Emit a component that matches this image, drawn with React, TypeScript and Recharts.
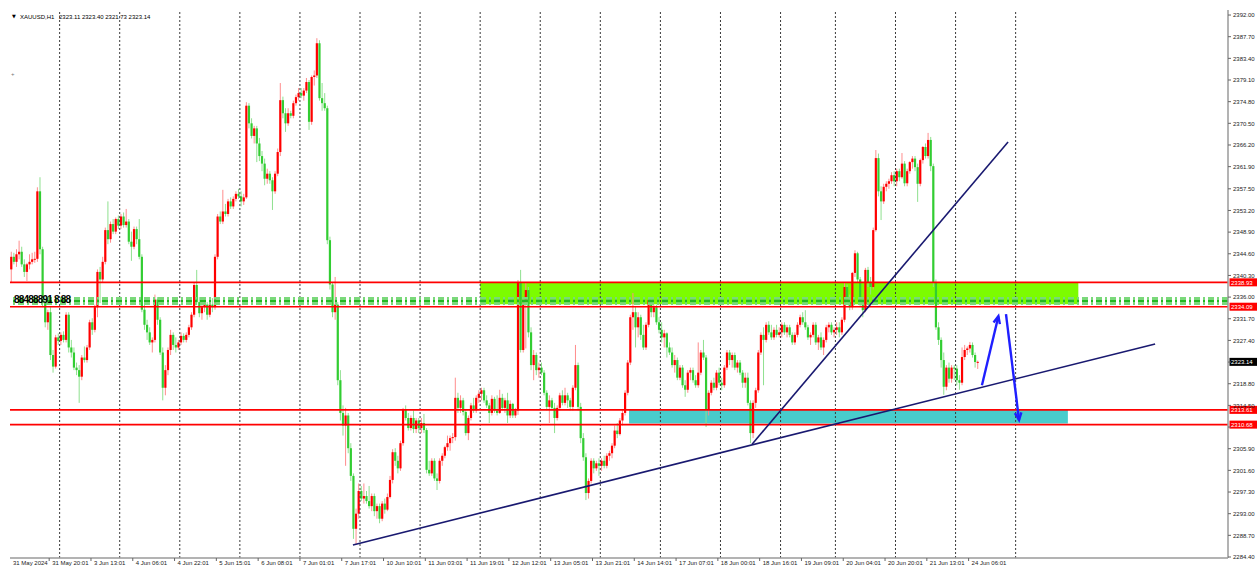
import React from 'react';
import {
  Bar,
  ComposedChart,
  ReferenceArea,
  ReferenceLine,
  XAxis,
  YAxis,
} from 'recharts';

// [open, high, low, close] per H1 bar
type Candle = [number, number, number, number];

const may31: Candle[] = [
  [2341.5, 2345.0, 2339.0, 2344.0], [2344.0, 2344.8, 2342.5, 2343.0], [2343.0, 2345.5, 2342.0, 2344.5],
  [2344.5, 2347.2, 2343.5, 2345.0], [2345.0, 2346.0, 2342.0, 2342.5], [2342.5, 2343.5, 2340.0, 2341.0],
  [2341.0, 2342.8, 2339.2, 2342.5], [2342.5, 2344.5, 2341.5, 2343.0], [2343.0, 2344.8, 2342.5, 2343.5],
  [2343.5, 2345.0, 2342.8, 2343.6], [2343.6, 2357.8, 2343.0, 2357.0], [2357.0, 2359.8, 2344.5, 2345.5],
  [2345.5, 2346.0, 2334.0, 2334.8], [2334.8, 2336.0, 2330.0, 2331.0], [2331.0, 2333.5, 2329.5, 2333.0],
  [2333.0, 2334.0, 2323.5, 2324.5], [2324.5, 2325.5, 2321.0, 2322.2], [2322.2, 2328.5, 2321.8, 2328.0],
  [2328.0, 2328.8, 2326.5, 2327.3],
];

const jun03: Candle[] = [
  [2327.3, 2329.0, 2326.5, 2328.5], [2328.5, 2329.2, 2327.0, 2327.5], [2327.5, 2333.0, 2327.0, 2332.5],
  [2332.5, 2333.0, 2325.0, 2326.0], [2326.0, 2327.5, 2324.0, 2325.0], [2325.0, 2326.0, 2321.5, 2322.0],
  [2322.0, 2323.0, 2320.5, 2321.5], [2321.5, 2322.5, 2315.0, 2320.2], [2320.2, 2324.5, 2319.5, 2324.0],
  [2324.0, 2326.2, 2323.0, 2323.5], [2323.5, 2326.5, 2323.0, 2326.0], [2326.0, 2331.5, 2325.5, 2331.0],
  [2331.0, 2331.8, 2328.5, 2329.5], [2329.5, 2334.5, 2329.0, 2334.0], [2334.0, 2341.5, 2332.0, 2341.0],
  [2341.0, 2342.0, 2334.8, 2339.5], [2339.5, 2344.0, 2339.0, 2343.0], [2343.0, 2349.8, 2342.5, 2349.3],
  [2349.3, 2355.0, 2346.5, 2347.5], [2347.5, 2351.0, 2346.8, 2350.5], [2350.5, 2351.5, 2348.5, 2349.0],
  [2349.0, 2351.8, 2348.5, 2351.5], [2351.5, 2352.2, 2349.5, 2350.2],
];

const jun04: Candle[] = [
  [2350.2, 2352.5, 2349.5, 2352.0], [2352.0, 2352.8, 2349.8, 2350.3], [2350.3, 2353.5, 2349.8, 2351.0],
  [2351.0, 2351.5, 2346.5, 2347.0], [2347.0, 2349.0, 2343.2, 2346.0], [2346.0, 2350.0, 2345.5, 2349.5],
  [2349.5, 2350.0, 2346.5, 2347.5], [2347.5, 2351.5, 2343.5, 2344.0], [2344.0, 2344.5, 2333.0, 2333.5],
  [2333.5, 2334.5, 2329.5, 2330.5], [2330.5, 2331.5, 2327.5, 2329.0], [2329.0, 2330.0, 2326.5, 2327.0],
  [2327.0, 2328.0, 2325.0, 2327.5], [2327.5, 2336.5, 2327.0, 2335.5], [2335.5, 2336.0, 2330.5, 2331.5],
  [2331.5, 2332.0, 2324.5, 2325.0], [2325.0, 2326.0, 2315.5, 2318.0], [2318.0, 2322.5, 2316.5, 2321.5],
  [2321.5, 2326.0, 2320.5, 2325.5], [2325.5, 2329.5, 2324.5, 2328.5], [2328.5, 2329.0, 2325.5, 2326.5],
  [2326.5, 2328.0, 2325.0, 2326.0], [2326.0, 2327.5, 2325.5, 2327.0],
];

const jun05: Candle[] = [
  [2327.0, 2329.0, 2326.5, 2328.3], [2328.3, 2328.8, 2327.0, 2327.5], [2327.5, 2329.0, 2327.0, 2328.5],
  [2328.5, 2330.5, 2328.0, 2330.0], [2330.0, 2333.0, 2329.5, 2332.5], [2332.5, 2339.0, 2332.0, 2338.4],
  [2338.4, 2341.4, 2334.5, 2335.0], [2335.0, 2336.0, 2332.0, 2332.8], [2332.8, 2335.0, 2331.5, 2334.0],
  [2334.0, 2335.5, 2333.0, 2334.5], [2334.5, 2335.0, 2331.5, 2332.5], [2332.5, 2335.0, 2332.0, 2334.5],
  [2334.5, 2335.8, 2333.0, 2334.0], [2334.0, 2344.5, 2333.5, 2344.0], [2344.0, 2352.5, 2343.5, 2352.0],
  [2352.0, 2353.0, 2350.5, 2351.0], [2351.0, 2357.3, 2350.5, 2353.0], [2353.0, 2354.5, 2352.0, 2352.5],
  [2352.5, 2355.5, 2352.0, 2355.0], [2355.0, 2355.8, 2353.5, 2354.0], [2354.0, 2356.0, 2353.5, 2355.5],
  [2355.5, 2357.0, 2355.0, 2356.5], [2356.5, 2357.5, 2355.5, 2356.0],
];

const jun06: Candle[] = [
  [2356.0, 2357.0, 2354.0, 2355.0], [2355.0, 2356.5, 2354.3, 2355.8], [2355.8, 2374.7, 2355.5, 2374.0],
  [2374.0, 2374.5, 2369.5, 2370.5], [2370.5, 2371.5, 2367.5, 2368.0], [2368.0, 2370.0, 2366.5, 2369.5],
  [2369.5, 2370.0, 2362.8, 2366.5], [2366.5, 2367.6, 2363.0, 2364.0], [2364.0, 2365.0, 2361.0, 2362.5],
  [2362.5, 2363.5, 2358.2, 2359.5], [2359.5, 2361.5, 2358.5, 2360.5], [2360.5, 2361.0, 2358.5, 2359.2],
  [2359.2, 2359.8, 2353.3, 2357.0], [2357.0, 2361.0, 2356.5, 2360.5], [2360.5, 2365.5, 2360.0, 2364.8],
  [2364.8, 2378.5, 2364.0, 2375.1], [2375.1, 2375.8, 2371.5, 2372.5], [2372.5, 2373.5, 2368.8, 2370.5],
  [2370.5, 2373.5, 2370.0, 2372.5], [2372.5, 2373.0, 2371.5, 2372.0], [2372.0, 2375.0, 2371.5, 2374.5],
  [2374.5, 2376.2, 2374.0, 2375.7], [2375.7, 2377.5, 2375.0, 2376.5],
];

const jun07: Candle[] = [
  [2376.5, 2377.5, 2375.5, 2376.0], [2376.0, 2377.5, 2375.0, 2377.0], [2377.0, 2379.5, 2376.5, 2378.7],
  [2378.7, 2379.1, 2369.2, 2370.8], [2370.8, 2380.0, 2370.2, 2379.7], [2379.7, 2381.0, 2378.0, 2380.0],
  [2380.0, 2387.4, 2379.5, 2386.4], [2386.4, 2387.0, 2375.0, 2375.5], [2375.5, 2378.5, 2373.0, 2374.5],
  [2374.5, 2376.5, 2373.0, 2373.5], [2373.5, 2374.0, 2346.5, 2347.3], [2347.3, 2348.0, 2337.5, 2338.5],
  [2338.5, 2339.0, 2332.0, 2333.0], [2333.0, 2340.0, 2331.5, 2334.5], [2334.5, 2335.0, 2318.5, 2319.5],
  [2319.5, 2321.5, 2311.5, 2313.0], [2313.0, 2314.5, 2308.5, 2310.5], [2310.5, 2314.0, 2302.5, 2312.5],
  [2312.5, 2313.0, 2305.0, 2306.0], [2306.0, 2307.0, 2299.5, 2300.5], [2300.5, 2301.0, 2288.0, 2290.0],
  [2290.0, 2294.0, 2286.9, 2293.0], [2293.0, 2299.0, 2292.0, 2297.5],
];

const jun10: Candle[] = [
  [2297.5, 2298.5, 2295.5, 2296.0], [2296.0, 2299.0, 2295.0, 2296.5], [2296.5, 2297.5, 2295.0, 2295.5],
  [2295.5, 2298.5, 2294.0, 2294.5], [2294.5, 2297.0, 2293.5, 2296.5], [2296.5, 2297.0, 2292.5, 2293.5],
  [2293.5, 2295.0, 2292.0, 2294.5], [2294.5, 2295.0, 2291.1, 2292.0], [2292.0, 2295.5, 2291.5, 2295.0],
  [2295.0, 2296.0, 2293.0, 2293.8], [2293.8, 2297.0, 2293.5, 2296.3], [2296.3, 2300.5, 2296.0, 2299.7],
  [2299.7, 2305.8, 2299.0, 2305.2], [2305.2, 2306.0, 2302.5, 2303.5], [2303.5, 2304.5, 2301.0, 2302.0],
  [2302.0, 2307.5, 2301.5, 2307.0], [2307.0, 2314.0, 2306.5, 2313.6], [2313.6, 2314.5, 2311.5, 2312.0],
  [2312.0, 2313.0, 2309.5, 2310.0], [2310.0, 2312.5, 2309.5, 2312.0], [2312.0, 2313.5, 2309.0, 2309.8],
  [2309.8, 2312.0, 2309.0, 2311.5], [2311.5, 2312.0, 2309.0, 2310.0],
];

const jun11: Candle[] = [
  [2310.0, 2312.0, 2309.0, 2311.0], [2311.0, 2312.8, 2309.0, 2309.6], [2309.6, 2310.0, 2301.0, 2301.7],
  [2301.7, 2303.5, 2300.5, 2301.0], [2301.0, 2304.0, 2300.5, 2303.5], [2303.5, 2304.0, 2299.5, 2300.0],
  [2300.0, 2301.0, 2297.7, 2299.5], [2299.5, 2304.0, 2299.0, 2303.5], [2303.5, 2305.0, 2302.5, 2304.5],
  [2304.5, 2306.5, 2304.0, 2306.2], [2306.2, 2308.5, 2305.5, 2307.0], [2307.0, 2308.5, 2305.5, 2308.0],
  [2308.0, 2309.0, 2307.0, 2308.2], [2308.2, 2320.0, 2307.5, 2316.0], [2316.0, 2317.0, 2313.0, 2314.0],
  [2314.0, 2316.5, 2313.0, 2315.5], [2315.5, 2316.0, 2312.5, 2313.2], [2313.2, 2313.8, 2308.5, 2309.0],
  [2309.0, 2312.5, 2307.6, 2312.0], [2312.0, 2315.0, 2311.5, 2314.5], [2314.5, 2316.0, 2313.0, 2313.5],
  [2313.5, 2316.5, 2313.0, 2316.0], [2316.0, 2317.5, 2315.0, 2316.8],
];

const jun12: Candle[] = [
  [2316.8, 2318.0, 2315.5, 2317.5], [2317.5, 2318.0, 2315.0, 2315.5], [2315.5, 2316.5, 2314.0, 2314.5],
  [2314.5, 2315.0, 2311.0, 2313.0], [2313.0, 2316.5, 2312.5, 2315.8], [2315.8, 2316.2, 2313.0, 2313.5],
  [2313.5, 2316.5, 2312.5, 2313.0], [2313.0, 2317.6, 2312.8, 2316.0], [2316.0, 2316.8, 2313.5, 2314.0],
  [2314.0, 2316.0, 2313.0, 2315.5], [2315.5, 2317.0, 2311.0, 2312.5], [2312.5, 2315.5, 2312.0, 2314.8],
  [2314.8, 2315.0, 2312.0, 2312.5], [2312.5, 2314.0, 2312.0, 2313.5], [2313.5, 2339.4, 2312.6, 2339.0],
  [2339.0, 2341.4, 2325.0, 2325.5], [2325.5, 2336.0, 2325.0, 2335.4], [2335.4, 2339.0, 2325.8, 2337.4],
  [2337.4, 2338.0, 2328.0, 2329.0], [2329.0, 2330.0, 2321.5, 2322.5], [2322.5, 2325.5, 2319.5, 2324.5],
  [2324.5, 2325.0, 2320.5, 2321.5], [2321.5, 2323.0, 2320.0, 2322.0],
];

const jun13: Candle[] = [
  [2322.0, 2323.0, 2320.5, 2321.0], [2321.0, 2321.5, 2316.5, 2317.0], [2317.0, 2317.5, 2313.5, 2314.2],
  [2314.2, 2316.5, 2311.0, 2315.5], [2315.5, 2316.0, 2313.5, 2314.0], [2314.0, 2315.0, 2309.0, 2312.0],
  [2312.0, 2314.5, 2311.5, 2314.0], [2314.0, 2317.0, 2313.5, 2316.5], [2316.5, 2317.5, 2314.5, 2315.0],
  [2315.0, 2318.0, 2314.5, 2316.5], [2316.5, 2317.0, 2314.0, 2315.5], [2315.5, 2316.0, 2313.5, 2314.2],
  [2314.2, 2318.5, 2313.5, 2318.0], [2318.0, 2326.5, 2317.5, 2322.5], [2322.5, 2323.0, 2313.5, 2314.2],
  [2314.2, 2315.0, 2307.0, 2308.0], [2308.0, 2309.0, 2303.5, 2304.2], [2304.2, 2305.0, 2295.7, 2297.1],
  [2297.1, 2300.0, 2296.0, 2299.5], [2299.5, 2304.0, 2299.0, 2303.5], [2303.5, 2304.0, 2301.0, 2302.0],
  [2302.0, 2303.5, 2301.5, 2303.0], [2303.0, 2304.0, 2300.5, 2302.5],
];

const jun14: Candle[] = [
  [2302.5, 2304.0, 2301.5, 2303.5], [2303.5, 2304.5, 2302.0, 2302.5], [2302.5, 2305.0, 2302.0, 2304.5],
  [2304.5, 2305.5, 2303.5, 2305.0], [2305.0, 2307.0, 2304.0, 2306.5], [2306.5, 2310.5, 2306.0, 2309.5],
  [2309.5, 2311.0, 2308.0, 2308.8], [2308.8, 2312.0, 2308.5, 2311.5], [2311.5, 2313.5, 2310.5, 2313.0],
  [2313.0, 2317.5, 2312.5, 2317.0], [2317.0, 2323.5, 2316.5, 2323.0], [2323.0, 2332.5, 2322.5, 2332.0],
  [2332.0, 2336.8, 2329.5, 2333.0], [2333.0, 2334.0, 2326.0, 2330.0], [2330.0, 2333.0, 2328.0, 2332.0],
  [2332.0, 2332.5, 2327.5, 2328.5], [2328.5, 2330.5, 2325.5, 2326.0], [2326.0, 2331.0, 2325.5, 2330.5],
  [2330.5, 2336.0, 2330.0, 2335.4], [2335.4, 2336.0, 2332.0, 2333.0], [2333.0, 2334.5, 2332.0, 2334.0],
  [2334.0, 2334.5, 2330.5, 2331.0], [2331.0, 2332.0, 2328.8, 2329.5],
];

const jun17: Candle[] = [
  [2329.5, 2331.0, 2327.0, 2328.0], [2328.0, 2329.5, 2326.0, 2328.8], [2328.8, 2329.0, 2324.0, 2326.0],
  [2326.0, 2327.0, 2324.5, 2325.0], [2325.0, 2326.0, 2322.0, 2322.5], [2322.5, 2324.5, 2321.0, 2323.5],
  [2323.5, 2324.0, 2319.5, 2320.0], [2320.0, 2322.5, 2319.5, 2322.0], [2322.0, 2322.5, 2318.0, 2318.5],
  [2318.5, 2319.5, 2316.2, 2317.6], [2317.6, 2321.5, 2317.0, 2321.0], [2321.0, 2322.0, 2319.5, 2321.5],
  [2321.5, 2322.0, 2319.0, 2319.5], [2319.5, 2320.5, 2318.0, 2318.5], [2318.5, 2327.0, 2318.0, 2321.0],
  [2321.0, 2325.5, 2320.5, 2325.0], [2325.0, 2327.5, 2323.5, 2324.0], [2324.0, 2324.5, 2310.2, 2313.6],
  [2313.6, 2317.5, 2312.5, 2317.0], [2317.0, 2319.5, 2316.5, 2319.0], [2319.0, 2320.0, 2317.5, 2318.0],
  [2318.0, 2321.5, 2317.5, 2321.0], [2321.0, 2322.0, 2318.5, 2319.0],
];

const jun18: Candle[] = [
  [2319.0, 2320.0, 2317.5, 2318.5], [2318.5, 2322.5, 2318.0, 2322.0], [2322.0, 2325.5, 2321.5, 2325.0],
  [2325.0, 2325.5, 2322.5, 2323.5], [2323.5, 2325.0, 2322.0, 2324.5], [2324.5, 2325.0, 2321.5, 2322.0],
  [2322.0, 2323.5, 2321.0, 2323.0], [2323.0, 2323.5, 2320.5, 2321.0], [2321.0, 2321.5, 2318.0, 2319.0],
  [2319.0, 2321.0, 2318.0, 2320.0], [2320.0, 2321.0, 2314.5, 2315.0], [2315.0, 2315.5, 2307.0, 2309.0],
  [2309.0, 2315.5, 2308.0, 2315.0], [2315.0, 2318.0, 2314.0, 2317.5], [2317.5, 2325.5, 2317.0, 2325.0],
  [2325.0, 2329.0, 2324.5, 2328.5], [2328.5, 2330.0, 2318.5, 2327.5], [2327.5, 2331.0, 2327.0, 2330.5],
  [2330.5, 2331.2, 2328.5, 2329.0], [2329.0, 2330.5, 2327.5, 2328.0], [2328.0, 2330.0, 2327.5, 2329.5],
  [2329.5, 2330.5, 2328.0, 2328.5], [2328.5, 2330.0, 2328.0, 2329.0],
];

const jun19: Candle[] = [
  [2329.0, 2331.0, 2328.0, 2330.5], [2330.5, 2331.0, 2328.5, 2329.0], [2329.0, 2330.5, 2328.0, 2330.0],
  [2330.0, 2330.5, 2328.0, 2328.5], [2328.5, 2329.0, 2326.5, 2327.0], [2327.0, 2329.0, 2326.5, 2328.5],
  [2328.5, 2331.0, 2328.0, 2330.5], [2330.5, 2332.5, 2330.0, 2332.0], [2332.0, 2333.0, 2330.5, 2331.0],
  [2331.0, 2333.4, 2329.5, 2330.0], [2330.0, 2330.5, 2327.5, 2328.0], [2328.0, 2329.0, 2326.5, 2328.5],
  [2328.5, 2331.0, 2328.0, 2330.5], [2330.5, 2331.0, 2326.5, 2327.0], [2327.0, 2328.5, 2325.5, 2328.0],
  [2328.0, 2329.0, 2325.5, 2326.0], [2326.0, 2328.0, 2324.5, 2327.5], [2327.5, 2330.5, 2327.0, 2330.0],
  [2330.0, 2331.0, 2329.0, 2330.5], [2330.5, 2331.0, 2328.5, 2329.0], [2329.0, 2330.0, 2328.0, 2329.5],
];

const jun20: Candle[] = [
  [2329.5, 2331.0, 2328.5, 2330.0], [2330.0, 2331.0, 2328.0, 2329.0], [2329.0, 2332.0, 2328.5, 2331.5],
  [2331.5, 2338.8, 2331.0, 2338.0], [2338.0, 2338.5, 2334.5, 2335.0], [2335.0, 2336.5, 2333.4, 2334.0],
  [2334.0, 2341.0, 2333.5, 2340.8], [2340.8, 2345.3, 2340.0, 2344.7], [2344.7, 2345.0, 2339.0, 2339.5],
  [2339.5, 2340.0, 2334.0, 2335.0], [2335.0, 2336.0, 2332.0, 2333.4], [2333.4, 2341.8, 2333.0, 2341.4],
  [2341.4, 2342.0, 2338.0, 2339.0], [2339.0, 2340.0, 2336.5, 2338.0], [2338.0, 2349.8, 2337.5, 2349.3],
  [2349.3, 2365.2, 2349.0, 2363.6], [2363.6, 2364.5, 2356.0, 2357.0], [2357.0, 2358.0, 2351.3, 2355.0],
  [2355.0, 2358.5, 2354.5, 2357.9], [2357.9, 2359.0, 2357.0, 2358.5], [2358.5, 2359.5, 2357.5, 2359.0],
  [2359.0, 2360.8, 2358.5, 2360.2], [2360.2, 2361.0, 2358.0, 2359.0],
];

const jun21: Candle[] = [
  [2359.0, 2361.5, 2358.0, 2361.0], [2361.0, 2361.5, 2359.0, 2359.8], [2359.8, 2364.6, 2359.5, 2362.5],
  [2362.5, 2363.0, 2358.0, 2358.6], [2358.6, 2361.5, 2358.0, 2361.0], [2361.0, 2363.0, 2360.5, 2362.8],
  [2362.8, 2364.0, 2361.5, 2363.5], [2363.5, 2364.0, 2361.0, 2361.8], [2361.8, 2362.5, 2354.9, 2358.5],
  [2358.5, 2363.5, 2358.0, 2363.2], [2363.2, 2366.0, 2362.5, 2365.8], [2365.8, 2366.5, 2363.5, 2364.0],
  [2364.0, 2368.6, 2363.5, 2367.2], [2367.2, 2367.8, 2361.0, 2362.0], [2362.0, 2362.5, 2338.0, 2338.8],
  [2338.8, 2339.5, 2329.5, 2330.0], [2330.0, 2331.0, 2326.5, 2327.5], [2327.5, 2328.0, 2322.0, 2323.5],
  [2323.5, 2325.0, 2316.6, 2318.2], [2318.2, 2322.5, 2317.5, 2322.0], [2322.0, 2323.0, 2319.0, 2319.8],
  [2319.8, 2322.5, 2319.0, 2322.0], [2322.0, 2322.5, 2319.5, 2321.8],
];

const jun24: Candle[] = [
  [2321.8, 2322.5, 2318.5, 2319.5], [2319.5, 2320.5, 2317.6, 2319.0], [2319.0, 2326.0, 2318.5, 2324.1],
  [2324.1, 2326.5, 2323.5, 2325.5], [2325.5, 2326.2, 2324.5, 2325.8], [2325.8, 2327.1, 2325.0, 2326.5],
  [2326.5, 2327.0, 2324.0, 2324.5], [2324.5, 2325.0, 2322.0, 2323.11], [2323.11, 2323.4, 2321.73, 2323.14],
];

const sessions: Candle[][] = [
  may31, jun03, jun04, jun05, jun06, jun07, jun10, jun11, jun12,
  jun13, jun14, jun17, jun18, jun19, jun20, jun21, jun24,
];
const barsPerFullSession = 23;
const visibleBars = 466.3;

const priceMin = 2284.2;
const priceMax = 2393.0;
const priceTicks = [
  2392.0, 2387.7, 2383.4, 2379.1, 2374.8, 2370.5, 2366.2, 2361.9, 2357.5, 2353.2, 2348.9, 2344.6, 2340.3,
  2336.0, 2331.7, 2327.4, 2323.1, 2318.8, 2314.5, 2310.2, 2305.9, 2301.6, 2297.3, 2293.0, 2288.7, 2284.4,
];

const timeTickBars = [
  0, 15, 31, 47, 63, 79, 95, 111, 127, 143, 159, 175, 191, 207, 223, 239, 255, 271, 287, 303, 319, 335, 351, 367,
];
const timeTickLabels = [
  '31 May 2024', '31 May 20:01', '3 Jun 13:01', '4 Jun 06:01', '4 Jun 22:01', '5 Jun 15:01', '6 Jun 08:01',
  '7 Jun 01:01', '7 Jun 17:01', '10 Jun 10:01', '11 Jun 03:01', '11 Jun 19:01', '12 Jun 12:01', '13 Jun 05:01',
  '13 Jun 21:01', '14 Jun 14:01', '17 Jun 07:01', '18 Jun 00:01', '18 Jun 16:01', '19 Jun 09:01', '20 Jun 04:01',
  '20 Jun 20:01', '21 Jun 13:01', '24 Jun 06:01',
];

const levelPrices = [2338.93, 2334.09, 2313.61, 2310.68];
const objectLinePrices = [2335.75, 2335.2, 2334.7];
const lastPrice = 2323.14;
const tagPrices = [...levelPrices, lastPrice];

// zones: [fromBar, toBar, lowPrice, highPrice]
const supplyZone = [180, 409, 2334.6, 2338.8];
const demandZone = [237, 405, 2310.9, 2313.7];

// trend lines and arrows: [fromBar, fromPrice, toBar, toPrice]
const trendLines = [
  [131.3, 2286.8, 438.4, 2326.7],
  [284.1, 2306.8, 382.1, 2366.8],
];
const arrowLines = [
  [372.1, 2318.5, 378.4, 2332.2],
  [381.3, 2332.6, 386.3, 2311.6],
];

const FONT = "'Liberation Sans', Arial, sans-serif";
const BULL = '#ff0000';
const BEAR = '#32cd32';
const BULL_WICK = '#ff8c8c';
const BEAR_WICK = '#8fe08f';

const rows = sessions.flat().map((c, i) => ({ bar: i + 0.5, open: c[0], high: c[1], low: c[2], close: c[3] }));

const daySeparators: number[] = [];
{
  let start = 0;
  sessions.forEach((s, i) => {
    if (i > 0) daySeparators.push(start);
    start += s.length;
  });
  daySeparators.push(start - sessions[sessions.length - 1].length + barsPerFullSession);
}

const lastCandle = sessions[sessions.length - 1][sessions[sessions.length - 1].length - 1];

function CandleShape(props: any) {
  const { x, y, width, height, payload } = props;
  if (!payload || x == null || y == null) return null;
  const top = Math.min(y, y + height);
  const bottom = Math.max(y, y + height);
  const span = payload.high - payload.low;
  const toY = (v: number) => (span > 0 ? top + ((payload.high - v) / span) * (bottom - top) : top);
  const cx = x + width / 2;
  const up = payload.close >= payload.open;
  const bTop = toY(Math.max(payload.open, payload.close));
  const bBot = toY(Math.min(payload.open, payload.close));
  return (
    <g>
      <line x1={cx} x2={cx} y1={top} y2={bottom} stroke={up ? BULL_WICK : BEAR_WICK} strokeWidth={1} />
      <rect x={cx - 1.1} y={bTop} width={2.2} height={Math.max(1, bBot - bTop)} fill={up ? BULL : BEAR} />
    </g>
  );
}

function PriceTick(props: any) {
  const { x, y, payload } = props;
  const value = Number(payload.value);
  // MT4 hides the scale label sitting under a price tag
  const covered = tagPrices.some((p) => Math.abs(p - value) < 0.6);
  return (
    <g>
      <line x1={x} x2={x + 3} y1={y} y2={y} stroke="#666" strokeWidth={1} />
      {!covered && (
        <text x={x + 5} y={y + 2.2} fontSize={6} fill="#222" fontFamily={FONT}>
          {value.toFixed(2)}
        </text>
      )}
    </g>
  );
}

function TimeTick(props: any) {
  const { x, y, payload } = props;
  const i = timeTickBars.indexOf(payload.value);
  return (
    <g>
      {i > 0 && <line x1={x} x2={x} y1={y} y2={y + 3} stroke="#666" strokeWidth={1} />}
      <text x={x + 3} y={y + 7} fontSize={6} fill="#222" fontFamily={FONT}>
        {timeTickLabels[i]}
      </text>
    </g>
  );
}

const priceTag = (price: number, bg: string) => (props: any) => {
  const vb = props.viewBox || {};
  const right = (vb.x ?? 0) + (vb.width ?? 0);
  const cy = vb.y ?? 0;
  return (
    <g>
      <rect x={right + 1.5} y={cy - 4} width={27.5} height={8} fill={bg} />
      <text x={right + 3} y={cy + 2.2} fontSize={6} fill="#fff" fontFamily={FONT}>
        {price.toFixed(2)}
      </text>
    </g>
  );
};

function ArrowShape(props: any) {
  const { x1, y1, x2, y2 } = props;
  if ([x1, y1, x2, y2].some((v) => v == null || Number.isNaN(v))) return null;
  const ang = Math.atan2(y2 - y1, x2 - x1);
  const len = 8;
  const spread = 0.42;
  const ax = x2 - len * Math.cos(ang - spread);
  const ay = y2 - len * Math.sin(ang - spread);
  const bx = x2 - len * Math.cos(ang + spread);
  const by = y2 - len * Math.sin(ang + spread);
  return (
    <g>
      <line x1={x1} y1={y1} x2={x2} y2={y2} stroke="#1f1fff" strokeWidth={2.4} />
      <polyline points={`${ax},${ay} ${x2},${y2} ${bx},${by}`} fill="none" stroke="#1f1fff" strokeWidth={2.4} />
    </g>
  );
}

export default function App() {
  return (
    <div style={{ position: 'absolute', left: 0, top: 0, width: 1258, height: 567, background: '#fff' }}>
      <ComposedChart width={1258} height={567} data={rows} margin={{ top: 10, right: 0, bottom: 0, left: 10 }}>
        <XAxis
          dataKey="bar"
          type="number"
          domain={[0, visibleBars]}
          allowDataOverflow
          ticks={timeTickBars}
          interval={0}
          height={9}
          tickLine={false}
          tickSize={0}
          tickMargin={0}
          tick={<TimeTick />}
          axisLine={{ stroke: '#9a9a9a', strokeWidth: 1.5 }}
        />
        <YAxis
          orientation="right"
          type="number"
          width={30}
          domain={[priceMin, priceMax]}
          allowDataOverflow
          ticks={priceTicks}
          interval={0}
          tickLine={false}
          tickSize={0}
          tickMargin={0}
          tick={<PriceTick />}
          axisLine={{ stroke: '#9a9a9a', strokeWidth: 1.5 }}
        />
        {daySeparators.map((b) => (
          <ReferenceLine key={`day-${b}`} x={b} stroke="#3a3a3a" strokeWidth={1} strokeDasharray="2 2" />
        ))}
        <ReferenceArea
          x1={supplyZone[0]}
          x2={supplyZone[1]}
          y1={supplyZone[2]}
          y2={supplyZone[3]}
          fill="#7cfc00"
          fillOpacity={1}
          stroke="none"
        />
        <ReferenceArea
          x1={demandZone[0]}
          x2={demandZone[1]}
          y1={demandZone[2]}
          y2={demandZone[3]}
          fill="#48cccc"
          fillOpacity={1}
          stroke="none"
        />
        {objectLinePrices.map((p, i) => (
          <ReferenceLine
            key={`obj-${i}`}
            y={p}
            stroke={i === 1 ? '#22b822' : '#7ad97a'}
            strokeWidth={2.6}
            strokeDasharray="6 3 2 3"
          />
        ))}
        <Bar
          dataKey={(d: any) => [d.low, d.high]}
          shape={(p: any) => <CandleShape {...p} />}
          isAnimationActive={false}
        />
        {levelPrices.map((p) => (
          <ReferenceLine key={`lvl-${p}`} y={p} stroke="#ff0000" strokeWidth={1.6} label={priceTag(p, '#ff0000')} />
        ))}
        <ReferenceLine y={lastPrice} stroke="none" label={priceTag(lastPrice, '#000000')} />
        {trendLines.map((t, i) => (
          <ReferenceLine
            key={`trend-${i}`}
            segment={[{ x: t[0], y: t[1] }, { x: t[2], y: t[3] }]}
            stroke="#191970"
            strokeWidth={1.6}
          />
        ))}
        {arrowLines.map((a, i) => (
          <ReferenceLine
            key={`arrow-${i}`}
            segment={[{ x: a[0], y: a[1] }, { x: a[2], y: a[3] }]}
            shape={(p: any) => <ArrowShape {...p} />}
          />
        ))}
      </ComposedChart>
      <svg width={1258} height={567} style={{ position: 'absolute', left: 0, top: 0, pointerEvents: 'none' }}>
        <text x={12} y={18} fontSize={5} fill="#000" fontFamily="'DejaVu Sans', sans-serif">▼</text>
        <text x={20} y={18.5} fontSize={6} fill="#000" fontFamily={FONT}>XAUUSD,H1</text>
        <text x={59} y={18.5} fontSize={6} fill="#000" fontFamily={FONT}>
          {lastCandle.map((v) => v.toFixed(2)).join(' ')}
        </text>
        <text x={11} y={76} fontSize={6} fill="#777" fontFamily={FONT}>+</text>
        <text x={14} y={303} fontSize={10} fontWeight="bold" fill="#000" letterSpacing={-0.8} fontFamily={FONT}>
          88488891 8 88
        </text>
      </svg>
    </div>
  );
}
